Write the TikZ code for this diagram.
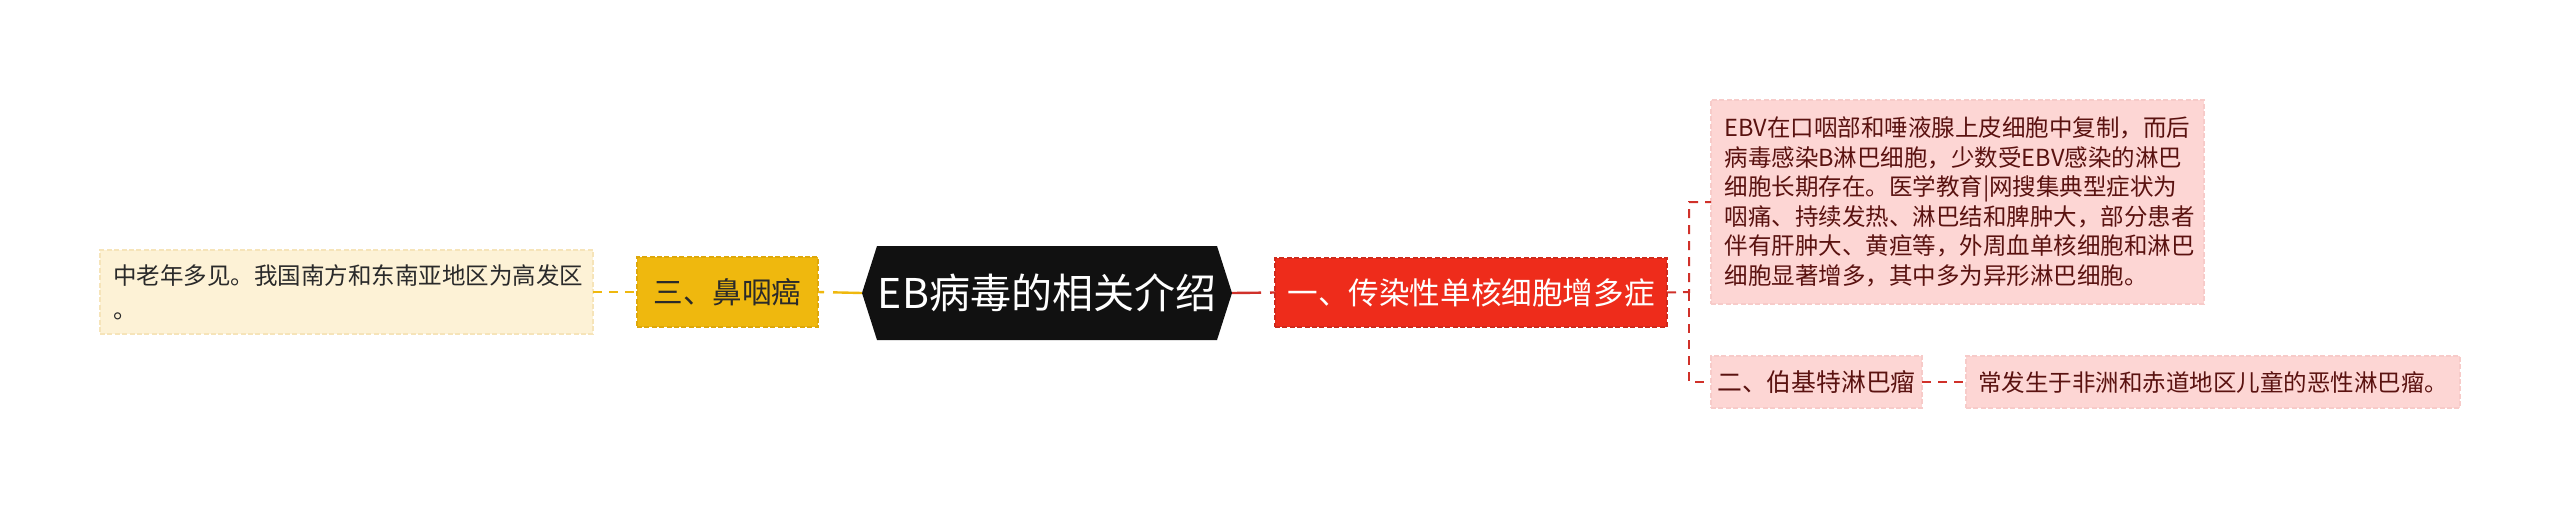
\documentclass[tikz,border=0pt]{standalone}
\usepackage{fontspec}
\setmainfont{Noto Sans CJK SC}
\usetikzlibrary{backgrounds}
\definecolor{leaffill}{HTML}{FDF2D6}
\definecolor{leafline}{HTML}{F6E4B9}
\definecolor{goldfill}{HTML}{EFB80E}
\definecolor{goldline}{HTML}{DEA80A}
\definecolor{redfill}{HTML}{EE2C1B}
\definecolor{redline}{HTML}{CF2A1C}
\definecolor{pinkfill}{HTML}{FDD6D4}
\definecolor{pinkline}{HTML}{F7CBC9}
\definecolor{pinktext}{HTML}{5A1210}
\definecolor{darktext}{HTML}{2A2A2A}
\definecolor{redconn}{HTML}{D0312A}
\definecolor{hexfill}{HTML}{111111}
\begin{document}
\begin{tikzpicture}[x=0.5pt,y=-0.5pt,
  box/.style={rectangle, draw, line width=0.6pt, dash pattern=on 2.5pt off 1.2pt,
    inner ysep=0pt, outer sep=0pt},
  leafbox/.style={box, fill=leaffill, draw=leafline, text=darktext,
    font=\fontsize{11.75pt}{17pt}\selectfont, align=left},
  goldbox/.style={box, fill=goldfill, draw=goldline, text=darktext,
    font=\fontsize{14.8pt}{18pt}\selectfont, inner xsep=0pt},
  redbox/.style={box, fill=redfill, draw=redline, text=white,
    font=\fontsize{15.3pt}{19pt}\selectfont, inner xsep=0pt},
  pinkbox/.style={box, fill=pinkfill, draw=pinkline, text=pinktext,
    font=\fontsize{11.75pt}{14.75pt}\selectfont},
  hexnode/.style={rectangle, inner sep=0pt, outer sep=0pt, text=white,
    font=\fontsize{20.5pt}{24pt}\selectfont},
  mainconn/.style={line width=1.2pt, dash pattern=on 14.5pt off 4.5pt},
  subconn/.style={line width=1pt, dash pattern=on 4.5pt off 3.5pt},
]
\useasboundingbox (0,0) rectangle (2560,510);

% central topic
\node[hexnode, minimum width=185pt, minimum height=47pt] (hex) at (1047,293) {EB病毒的相关介绍};
\begin{scope}[on background layer]
\fill[hexfill] (hex.west) -- ([xshift=7.5pt]hex.north west) -- ([xshift=-7.5pt]hex.north east)
  -- (hex.east) -- ([xshift=-7.5pt]hex.south east) -- ([xshift=7.5pt]hex.south west) -- cycle;
\end{scope}

% left branch
\node[goldbox, minimum width=90.5pt, minimum height=35pt] (nasal) at (727.5,292) {三、鼻咽癌};
\node[leafbox, text width=233.5pt, inner xsep=6.5pt, minimum height=42pt] (nasalleaf) at (346.5,292)
  {中老年多见。我国南方和东南亚地区为高发区\\。};

% right branch
\node[redbox, minimum width=196pt, minimum height=34.5pt] (mono) at (1471,292.5) {一、传染性单核细胞增多症};
\node[pinkbox, align=left, text width=233pt, inner xsep=6.75pt, minimum height=102pt] (ebv) at (1957.5,202)
  {EBV在口咽部和唾液腺上皮细胞中复制，而后\\
   病毒感染B淋巴细胞，少数受EBV感染的淋巴\\
   细胞长期存在。医学教育|网搜集典型症状为\\
   咽痛、持续发热、淋巴结和脾肿大，部分患者\\
   伴有肝肿大、黄疸等，外周血单核细胞和淋巴\\
   细胞显著增多，其中多为异形淋巴细胞。};
\node[pinkbox, font=\fontsize{12.4pt}{16pt}\selectfont, inner xsep=0pt, minimum width=105.5pt, minimum height=26pt] (burkitt) at (1816.5,382) {二、伯基特淋巴瘤};
\node[pinkbox, inner xsep=0pt, minimum width=247pt, minimum height=26pt] (burkittleaf) at (2213,382) {常发生于非洲和赤道地区儿童的恶性淋巴瘤。};

% connectors
\draw[goldfill, mainconn] (hex.west) -- (nasal.east);
\draw[goldfill, subconn] (nasalleaf.east) -- (nasal.west);
\draw[redconn, mainconn] (hex.east) -- (mono.west);
\coordinate (jr) at (1689,292);
\draw[redconn, subconn] (mono.east) -- (jr) |- (ebv.west);
\draw[redconn, subconn] (jr) |- (burkitt.west);
\draw[redconn, subconn] (burkitt.east) -- (burkittleaf.west);
\end{tikzpicture}
\end{document}
